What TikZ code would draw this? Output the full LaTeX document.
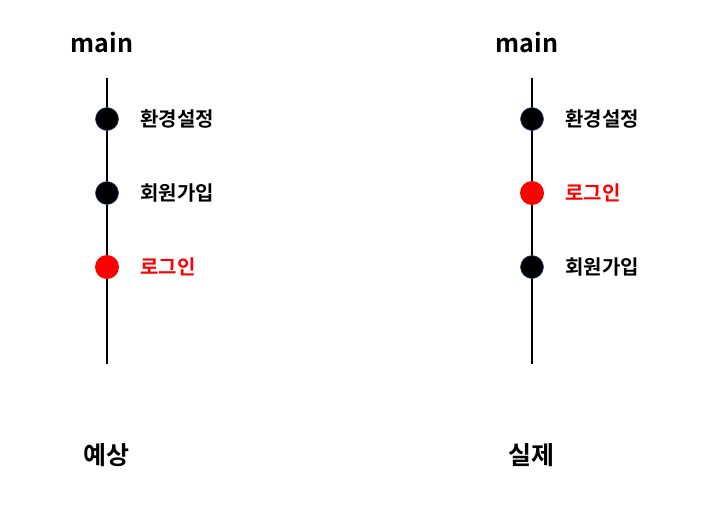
\documentclass[tikz,border=0pt]{standalone}
\usepackage{fontspec}
\setmainfont{Noto Sans CJK KR}[BoldFont={Noto Sans CJK KR Bold}]
\definecolor{commitred}{HTML}{FF0000}
\definecolor{commitrim}{HTML}{2F4A7A}
\tikzset{
  branchline/.style={line width=2pt},
  commit/.style={circle,fill=black,draw=commitrim,line width=0.6pt,minimum size=23pt,inner sep=0pt},
  hotcommit/.style={circle,fill=commitred,minimum size=24pt,inner sep=0pt},
  msg/.style={anchor=west,font=\bfseries\fontsize{20}{20}\selectfont},
  branch/.style={font=\bfseries\fontsize{25}{25}\selectfont},
  caption/.style={font=\bfseries\fontsize{25}{25}\selectfont}
}
\begin{document}
\begin{tikzpicture}[x=1pt,y=-1pt]
\useasboundingbox (0,0) rectangle (713,515);
% expected
\node[branch] (mainL) at (102,43) {main};
\coordinate (topL) at (107,78);
\coordinate (botL) at (107,364);
\draw[branchline] (topL) -- (botL);
\node[commit] (envL) at (107,119) {};
\node[commit] (joinL) at (107,193) {};
\node[hotcommit] (loginL) at (107,267) {};
\node[msg] at (137,119) {환경설정};
\node[msg] at (137,193) {회원가입};
\node[msg,text=commitred] at (137,267) {로그인};
\node[caption] (expect) at (106,455) {예상};
% actual
\node[branch] (mainR) at (527,43) {main};
\coordinate (topR) at (532,78);
\coordinate (botR) at (532,364);
\draw[branchline] (topR) -- (botR);
\node[commit] (envR) at (532,119) {};
\node[hotcommit] (loginR) at (532,193) {};
\node[commit] (joinR) at (532,267) {};
\node[msg] at (562,119) {환경설정};
\node[msg,text=commitred] at (562,193) {로그인};
\node[msg] at (562,267) {회원가입};
\node[caption] (actual) at (531,455) {실제};
\end{tikzpicture}
\end{document}
